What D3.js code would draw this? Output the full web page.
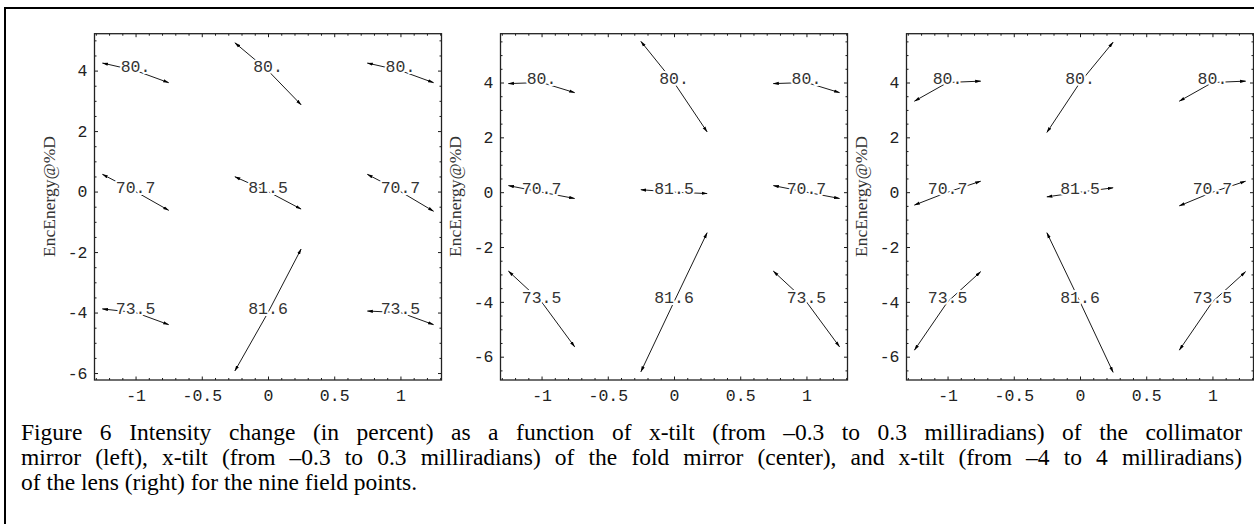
<!DOCTYPE html>
<html><head><meta charset="utf-8">
<script src="https://cdn.jsdelivr.net/npm/d3@7"></script>
<style>body{margin:0;background:#fff;overflow:hidden} svg{display:block}</style>
</head><body>
<svg id="c" width="1254" height="524"></svg>
<script>
// ---- data ----
const fieldX = [-1, 0, 1, -1, 0, 1, -1, 0, 1];
const fieldY = [4, 4, 4, 0, 0, 0, -4, -4, -4];
const fieldLabels = ["80.", "80.", "80.", "70.7", "81.5", "70.7", "73.5", "81.6", "73.5"];
const tiltOffset = [-0.25, 0.25];
const collimatorLeft  = [4.25, 4.92, 4.25, 0.57, 0.49, 0.57, -3.88, -5.93, -3.95];
const collimatorRight = [3.60, 2.87, 3.60, -0.62, -0.58, -0.65, -4.40, -1.90, -4.40];
const foldLeft  = [3.96, 5.50, 3.96, 0.24, 0.09, 0.24, -2.88, -6.55, -2.88];
const foldRight = [3.63, 2.20, 3.63, -0.23, -0.05, -0.23, -5.64, -1.48, -5.64];
const lensLeft  = [3.32, 2.18, 3.32, -0.47, -0.17, -0.50, -5.76, -1.48, -5.76];
const lensRight = [4.05, 5.47, 4.05, 0.40, 0.16, 0.40, -2.90, -6.57, -2.90];
const xDomain = [-1.31, 1.31];
const yDomainCollimator = [-6.23, 5.22];
const yDomainFold = [-6.85, 5.78];
const yDomainLens = [-6.85, 5.78];
const xTicks = [-1, -0.5, 0, 0.5, 1];
const xTickLabels = ["-1", "-0.5", "0", "0.5", "1"];
const yTicks = [-6, -4, -2, 0, 2, 4];
const yTickLabels = ["-6", "-4", "-2", "0", "2", "4"];
const yAxisTitle = "EncEnergy@%D";
const captionLines = [
  "Figure 6 Intensity change (in percent) as a function of x-tilt (from \u20130.3 to 0.3 milliradians) of the collimator",
  "mirror (left), x-tilt (from \u20130.3 to 0.3 milliradians) of the fold mirror (center), and x-tilt (from \u20134 to 4 milliradians)",
  "of the lens (right) for the nine field points."
];

// ---- layout ----
const svg = d3.select("#c");
const panelLefts = [94.5, 500.5, 906.5];
const panelW = 347, panelTop = 33.7, panelH = 346.3;
const panels = [
  {left: collimatorLeft, right: collimatorRight, yDom: yDomainCollimator},
  {left: foldLeft, right: foldRight, yDom: yDomainFold},
  {left: lensLeft, right: lensRight, yDom: yDomainLens}
];

svg.append("path").attr("d", "M5,524 L5,8 L1254,8")
  .attr("fill", "none").attr("stroke", "#000").attr("stroke-width", 2);

const defs = svg.append("defs");
defs.append("marker").attr("id", "ah")
  .attr("markerUnits", "userSpaceOnUse")
  .attr("viewBox", "0 -2 6 4").attr("refX", 5.5).attr("refY", 0)
  .attr("markerWidth", 6).attr("markerHeight", 4).attr("orient", "auto")
  .append("path").attr("d", "M0,-1.6L6,0L0,1.6Z").attr("fill", "#000");

const monoFont = "'Liberation Mono', 'Courier New', monospace";

panels.forEach((p, pi) => {
  const x = d3.scaleLinear().domain(xDomain).range([0, panelW]);
  const y = d3.scaleLinear().domain(p.yDom).range([panelH, 0]);
  const g = svg.append("g").attr("transform", `translate(${panelLefts[pi]},${panelTop})`);

  const yMinor = d3.range(Math.ceil(p.yDom[0] / 0.5) * 0.5, p.yDom[1], 0.5)
    .filter(v => Math.abs(v / 2 - Math.round(v / 2)) > 1e-6);
  const xMinor = d3.range(-13, 14).map(v => v / 10)
    .filter(v => Math.abs(v * 2 - Math.round(v * 2)) > 1e-6 && v >= xDomain[0] && v <= xDomain[1]);

  function styleAxis(sel) {
    sel.select(".domain").remove();
    sel.selectAll(".tick line").attr("stroke", "#000").attr("stroke-width", 0.9);
    sel.selectAll("text").attr("font-family", monoFont).attr("font-size", 16.5).attr("fill", "#222");
  }
  g.append("g").call(d3.axisLeft(y).tickValues(yTicks).tickFormat((d, i) => yTickLabels[i])
      .tickSizeInner(-3.5).tickSizeOuter(0).tickPadding(7)).call(styleAxis);
  g.append("g").call(d3.axisLeft(y).tickValues(yMinor).tickFormat("").tickSizeInner(-2).tickSizeOuter(0)).call(styleAxis);
  g.append("g").attr("transform", `translate(${panelW},0)`)
    .call(d3.axisRight(y).tickValues(yTicks).tickFormat("").tickSizeInner(-3.5).tickSizeOuter(0)).call(styleAxis);
  g.append("g").attr("transform", `translate(${panelW},0)`)
    .call(d3.axisRight(y).tickValues(yMinor).tickFormat("").tickSizeInner(-2).tickSizeOuter(0)).call(styleAxis);
  g.append("g").attr("transform", `translate(0,${panelH})`)
    .call(d3.axisBottom(x).tickValues(xTicks).tickFormat((d, i) => xTickLabels[i])
      .tickSizeInner(-3.5).tickSizeOuter(0).tickPadding(9)).call(styleAxis);
  g.append("g").attr("transform", `translate(0,${panelH})`)
    .call(d3.axisBottom(x).tickValues(xMinor).tickFormat("").tickSizeInner(-2).tickSizeOuter(0)).call(styleAxis);
  g.append("g").call(d3.axisTop(x).tickValues(xTicks).tickFormat("").tickSizeInner(-3.5).tickSizeOuter(0)).call(styleAxis);
  g.append("g").call(d3.axisTop(x).tickValues(xMinor).tickFormat("").tickSizeInner(-2).tickSizeOuter(0)).call(styleAxis);

  g.append("rect").attr("x", 0).attr("y", 0).attr("width", panelW).attr("height", panelH)
    .attr("fill", "none").attr("stroke", "#222").attr("stroke-width", 1.3);

  const segs = [];
  fieldX.forEach((fx, i) => {
    segs.push({x1: fx, y1: fieldY[i], x2: fx + tiltOffset[0], y2: p.left[i]});
    segs.push({x1: fx, y1: fieldY[i], x2: fx + tiltOffset[1], y2: p.right[i]});
  });
  g.append("g").selectAll("line").data(segs).join("line")
    .attr("x1", d => x(d.x1)).attr("y1", d => y(d.y1))
    .attr("x2", d => x(d.x2)).attr("y2", d => y(d.y2))
    .attr("stroke", "#000").attr("stroke-width", 0.9)
    .attr("marker-end", "url(#ah)");

  g.append("g").selectAll("text").data(fieldLabels).join("text")
    .attr("x", (d, i) => x(fieldX[i])).attr("y", (d, i) => y(fieldY[i]) + 1.5)
    .attr("text-anchor", "middle")
    .attr("font-family", monoFont).attr("font-size", 16.5)
    .attr("fill", "#333").attr("stroke", "#fff").attr("stroke-width", 4)
    .attr("paint-order", "stroke").attr("stroke-linejoin", "round")
    .text(d => d);

  g.append("text")
    .attr("transform", `translate(-40,${196.5 - panelTop}) rotate(-90)`)
    .attr("text-anchor", "middle")
    .attr("font-family", "'Liberation Serif', 'Times New Roman', serif")
    .attr("font-size", 17.5).attr("fill", "#333")
    .text(yAxisTitle);
});

// caption (justified serif)
const capFont = "'Liberation Serif', 'Times New Roman', serif";
const capX = 21, capRight = 1242, capBase = [440, 465, 490];
captionLines.forEach((line, i) => {
  const t = svg.append("text").attr("x", capX).attr("y", capBase[i])
    .attr("font-family", capFont).attr("font-size", 23.5).attr("fill", "#000")
    .text(line);
  if (i < captionLines.length - 1) {
    const natural = t.node().getComputedTextLength();
    const spaces = (line.match(/ /g) || []).length;
    t.attr("word-spacing", Math.max(0, (capRight - capX - natural) / spaces));
  }
});
</script>
</body></html>
